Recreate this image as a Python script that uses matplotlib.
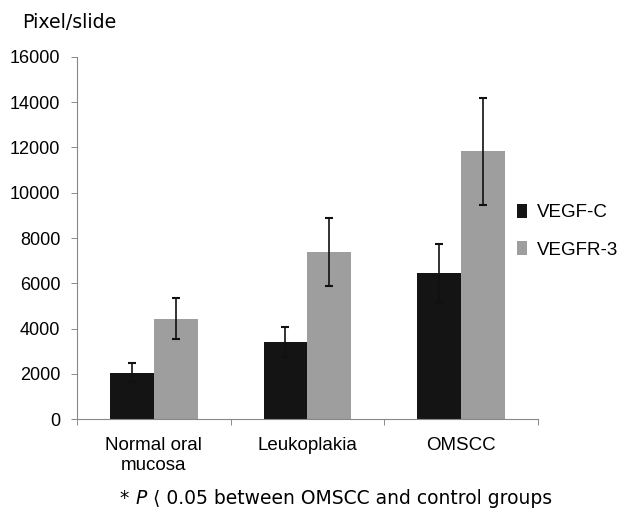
import matplotlib
matplotlib.use("Agg")
import matplotlib.pyplot as plt
from matplotlib.offsetbox import TextArea, HPacker, AnchoredOffsetbox
import numpy as np

categories = ["Normal oral\nmucosa", "Leukoplakia", "OMSCC"]
vegfc = [2050, 3400, 6450]
vegfc_err = [420, 660, 1300]
vegfr3 = [4430, 7370, 11830]
vegfr3_err = [900, 1500, 2370]
yticks = [0, 2000, 4000, 6000, 8000, 10000, 12000, 14000, 16000]

plt.rcParams['font.family'] = ['Liberation Sans', 'DejaVu Sans']
fig = plt.figure(figsize=(6.26, 5.13), dpi=100)
ax = fig.add_axes([0.123, 0.183, 0.736, 0.706])

x = np.arange(len(categories))
w = 0.285
ax.bar(x - w/2, vegfc, w, color='#141414', label='VEGF-C', zorder=2)
ax.bar(x + w/2, vegfr3, w, color='#9e9e9e', label='VEGFR-3', zorder=2)
ax.errorbar(x - w/2, vegfc, yerr=vegfc_err, fmt='none', ecolor='#111111',
            elinewidth=1.2, capsize=3, capthick=1.5, zorder=3)
ax.errorbar(x + w/2, vegfr3, yerr=vegfr3_err, fmt='none', ecolor='#111111',
            elinewidth=1.2, capsize=3, capthick=1.5, zorder=3)

ax.set_xlim(-0.5, 2.5)
ax.set_ylim(0, 16000)
ax.set_yticks(yticks)
ax.set_yticklabels([str(v) for v in yticks], fontsize=13)
ax.set_xticks([-0.5, 0.5, 1.5, 2.5])
ax.set_xticklabels([])
ax.set_xticks(x, minor=True)
ax.set_xticklabels(categories, minor=True, fontsize=13.5)
ax.tick_params(axis='x', which='minor', length=0, pad=13)
ax.tick_params(axis='x', which='major', length=4, width=0.6, color='#777777', direction='out')
ax.tick_params(axis='y', length=4, width=0.6, color='#777777', pad=8)

for s in ['top', 'right']:
    ax.spines[s].set_visible(False)
for s in ['left', 'bottom']:
    ax.spines[s].set_color('#888888')
    ax.spines[s].set_linewidth(0.8)
    ax.spines[s].set_linestyle((0, (2, 1)))

leg = ax.legend(loc='center left', bbox_to_anchor=(0.955, 0.519), frameon=False,
                fontsize=13.5, handlelength=0.55, handleheight=0.8, handletextpad=0.5,
                labelspacing=1.05, borderpad=0, borderaxespad=0)

fig.text(0.035, 0.957, "Pixel/slide", fontsize=13.7, ha='left', va='center',
         family=['DejaVu Sans'])

fp = dict(fontsize=13.5, family=['DejaVu Sans'])
parts = [TextArea("* ", textprops=fp),
         TextArea("P", textprops=dict(fp, style='italic')),
         TextArea(" \u27e8 0.05 between OMSCC and control groups", textprops=fp)]
box = HPacker(children=parts, pad=0, sep=0, align='baseline')
anch = AnchoredOffsetbox(loc='center', child=box, frameon=False, pad=0, borderpad=0,
                         bbox_to_anchor=(0.537, 0.029), bbox_transform=fig.transFigure)
fig.add_artist(anch)

fig.savefig("out.png", dpi=100, facecolor='white')
